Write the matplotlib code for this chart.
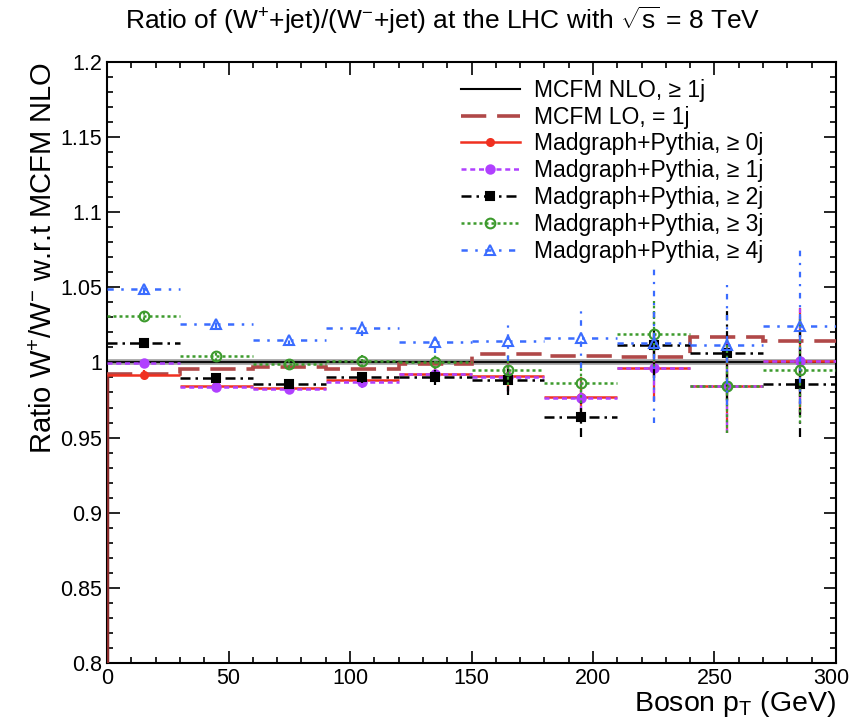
import numpy as np
import matplotlib
matplotlib.use("Agg")
import matplotlib.pyplot as plt
import matplotlib.transforms as mtransforms
from matplotlib.lines import Line2D
from matplotlib.ticker import MultipleLocator, FuncFormatter

plt.rcParams['font.family'] = ['Liberation Sans', 'DejaVu Sans']
plt.rcParams['mathtext.fontset'] = 'custom'
plt.rcParams['mathtext.rm'] = 'Liberation Sans'
plt.rcParams['mathtext.it'] = 'Liberation Sans:italic'
plt.rcParams['mathtext.bf'] = 'Liberation Sans:bold'

# ---- data ----
bin_edges = [0, 30, 60, 90, 120, 150, 180, 210, 240, 270, 300]
bin_centers = [15, 45, 75, 105, 135, 165, 195, 225, 255, 285]
nlo = [1.0] * 10
lo = [0.992, 0.9957, 0.9968, 0.9955, 0.999, 1.0058, 1.004, 1.0035, 1.017, 1.014]
mg0 = [0.9917, 0.984, 0.983, 0.988, 0.992, 0.991, 0.977, 0.996, 0.984, 1.001]
mg1 = [0.9995, 0.9835, 0.982, 0.987, 0.992, 0.990, 0.976, 0.996, 0.984, 1.001]
mg2 = [1.0128, 0.9895, 0.9855, 0.990, 0.990, 0.988, 0.9635, 1.0117, 1.006, 0.9857]
mg3 = [1.031, 1.004, 0.999, 1.0012, 1.0006, 0.995, 0.986, 1.019, 0.984, 0.995]
mg4 = [1.049, 1.0256, 1.015, 1.0228, 1.0135, 1.0142, 1.0162, 1.013, 1.0117, 1.024]
err_mg = [0.003, 0.003, 0.003, 0.004, 0.005, 0.010, 0.013, 0.022, 0.031, 0.035]
err_mg4 = [0.003, 0.003, 0.004, 0.005, 0.007, 0.013, 0.020, 0.053, 0.040, 0.052]

labels = ["MCFM NLO, \u2265 1j", "MCFM LO, = 1j",
          "Madgraph+Pythia, \u2265 0j", "Madgraph+Pythia, \u2265 1j",
          "Madgraph+Pythia, \u2265 2j", "Madgraph+Pythia, \u2265 3j",
          "Madgraph+Pythia, \u2265 4j"]

fig = plt.figure(figsize=(8.5, 7.27), dpi=100)
ax = fig.add_axes([0.126, 0.088, 0.8575, 0.827])
ymin, ymax = 0.8, 1.2
xmin, xmax = 0, 300
ax.set_xlim(xmin, xmax)
ax.set_ylim(ymin, ymax)

# MCFM NLO reference
ax.axhline(nlo[0], color='#9a9a9a', lw=4.0, zorder=2)
ax.axhline(nlo[0], color='black', lw=1.3, zorder=3)

# MCFM LO histogram
c_lo = '#b04848'
ax.stairs(lo, bin_edges, baseline=None, color=c_lo, lw=2.6,
          linestyle=(0, (7, 3)), zorder=4)
ax.vlines(bin_edges[0], ymin, mg0[0], color='#8b2a2a', lw=2.5, zorder=4)

series = [
    (mg0, err_mg, '#f03020', '-', 'o', 5.0, True),
    (mg1, err_mg, '#b040ff', (0, (2, 1.5)), 'o', 6.0, True),
    (mg2, err_mg, 'black', (0, (4, 2, 1, 2)), 's', 6.0, True),
    (mg3, err_mg, '#3c9a2c', (0, (1.2, 1.2)), 'o', 7.0, False),
    (mg4, err_mg4, '#3a6cff', (0, (2.5, 3, 1, 3)), '^', 7.0, False),
]
half = [(bin_edges[i + 1] - bin_edges[i]) / 2 for i in range(len(bin_centers))]
handles = [Line2D([], [], color='black', lw=1.5),
           Line2D([], [], color=c_lo, lw=2.6, linestyle=(0, (7, 3)))]
for k, (vals, errs, col, ls, mk, ms, filled) in enumerate(series):
    z = 5 + k
    xs = np.array(bin_centers)
    ys = np.array(vals)
    hw = np.array(half)
    ax.hlines(ys, xs - hw, xs + hw, colors=col, linestyles=[ls], lw=1.8, zorder=z)
    ax.vlines(xs, ys - np.array(errs), ys + np.array(errs), colors=col,
              linestyles=[ls], lw=1.6, zorder=z)
    ax.plot(xs, ys, linestyle='none', marker=mk, ms=ms, color=col,
            mfc=col if filled else 'none', mew=1.5, zorder=z + 0.5)
    handles.append(Line2D([], [], color=col, linestyle=ls, lw=1.8, marker=mk,
                          ms=ms, mfc=col if filled else 'none', mew=1.5))

leg = ax.legend(handles, labels, loc='upper left', bbox_to_anchor=(0.485, 0.972),
                frameon=False, fontsize=16.5, handlelength=2.6, handletextpad=0.6,
                labelspacing=0.17, borderaxespad=0.0, borderpad=0.0)

# axes styling (ROOT-like)
ax.xaxis.set_major_locator(MultipleLocator(50))
ax.xaxis.set_minor_locator(MultipleLocator(10))
ax.yaxis.set_major_locator(MultipleLocator(0.05))
ax.yaxis.set_minor_locator(MultipleLocator(0.01))
ax.tick_params(which='both', direction='in', top=True, right=True, labelsize=15.5, width=1.2)
ax.tick_params(which='major', length=9)
ax.tick_params(which='minor', length=4.5)
ax.yaxis.set_major_formatter(FuncFormatter(lambda v, p: ('%g' % round(v, 3))))
# last x label drawn separately so it stays inside the figure
ax.xaxis.set_major_formatter(FuncFormatter(lambda v, p: '' if v >= xmax else '%g' % v))
trans = mtransforms.blended_transform_factory(ax.transData, ax.transAxes)
ax.text(xmax, 0, '%g' % xmax, transform=trans + mtransforms.ScaledTranslation(
    0.13, -0.045, fig.dpi_scale_trans), ha='right', va='top', fontsize=15.5)
for s in ax.spines.values():
    s.set_linewidth(1.5)

fig.text(443 / 850, 1 - 20 / 727,
         "Ratio of (W$^{+}$+jet)/(W$^{-}$+jet) at the LHC with $\\sqrt{\\mathrm{s}}$ = 8 TeV",
         fontsize=19, ha='center', va='center')
ax.set_xlabel("Boson p$_{\\mathrm{T}}$ (GeV)", fontsize=20.5, loc='right', labelpad=0)
ax.set_ylabel("Ratio W$^{+}$/W$^{-}$ w.r.t MCFM NLO", fontsize=21, loc='top', labelpad=2)

fig.savefig("out.png", dpi=100)
